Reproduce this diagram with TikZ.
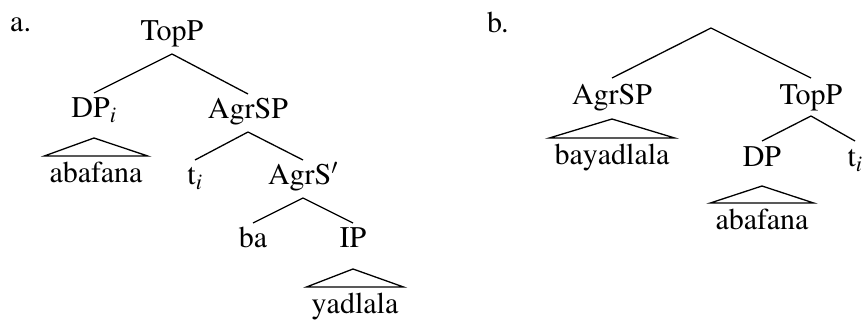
\documentclass[tikz,border=0pt]{standalone}
\usepackage[T1]{fontenc}
\usepackage{mathptmx}
\usetikzlibrary{calc}
\tikzset{
  lbl/.style={anchor=base, inner sep=0pt, font=\fontsize{30}{36}\selectfont},
  lbltag/.style={anchor=base west, inner sep=0pt, font=\fontsize{30}{36}\selectfont},
  roofword/.style={anchor=base, inner ysep=0pt, inner xsep=5pt, font=\fontsize{30}{36}\selectfont},
  edge/.style={line width=1.3pt, line join=miter},
}
% a branch from a mother's base line down to a daughter's top
\newcommand\branchline[2]{\draw[edge] ($(#1.base)+(0,13)$) -- ($(#2.base)+(0,-25)$);}
% a roof over a word, hanging from a mother's base line
\newcommand\roofline[3]{\draw[edge] ($(#1.base)+(0,#3)$) -- ($(#2.base west)+(0,-27)$) -- ($(#2.base east)+(0,-27)$) -- cycle;}
\begin{document}
\begin{tikzpicture}[x=1pt, y=-1pt]
\useasboundingbox (0,0) rectangle (868,320);

% ---- tree a ----
\node[lbltag] (taga) at (10,32) {a.};
\node[lbl] (topa) at (172,41) {TopP};
\node[lbl] (dpi) at (94,118) {DP$_i$};
\node[lbl] (agrspa) at (248,119) {AgrSP};
\node[roofword] (abafa) at (96,183) {abafana};
\node[lbl] (tia) at (195,185) {t$_i$};
\node[lbl] (agrsbar) at (303,185) {AgrS$'$};
\node[lbl] (ba) at (253,248) {ba};
\node[lbl] (ip) at (353,248) {IP};
\node[roofword] (yadl) at (355,314) {yadlala};

\branchline{topa}{dpi}
\branchline{topa}{agrspa}
\roofline{dpi}{abafa}{20}
\branchline{agrspa}{tia}
\branchline{agrspa}{agrsbar}
\branchline{agrsbar}{ba}
\branchline{agrsbar}{ip}
\roofline{ip}{yadl}{21}

% ---- tree b ----
\node[lbltag] (tagb) at (487,33) {b.};
\coordinate (rootb) at (711,28);
\node[lbl] (agrspb) at (612,105) {AgrSP};
\node[lbl] (topb) at (811,105) {TopP};
\node[roofword] (baya) at (612,165) {bayadlala};
\node[lbl] (dpb) at (762,167) {DP};
\node[lbl] (tib) at (855,167) {t$_i$};
\node[roofword] (abafb) at (762,230) {abafana};

\draw[edge] (rootb) -- ($(agrspb.base)+(0,-27)$);
\draw[edge] (rootb) -- ($(topb.base)+(0,-27)$);
\roofline{agrspb}{baya}{14}
\draw[edge] ($(topb.base)+(0,11)$) -- ($(dpb.base)+(0,-26)$);
\draw[edge] ($(topb.base)+(0,11)$) -- ($(tib.base)+(0,-26)$);
\roofline{dpb}{abafb}{19}
\end{tikzpicture}
\end{document}
